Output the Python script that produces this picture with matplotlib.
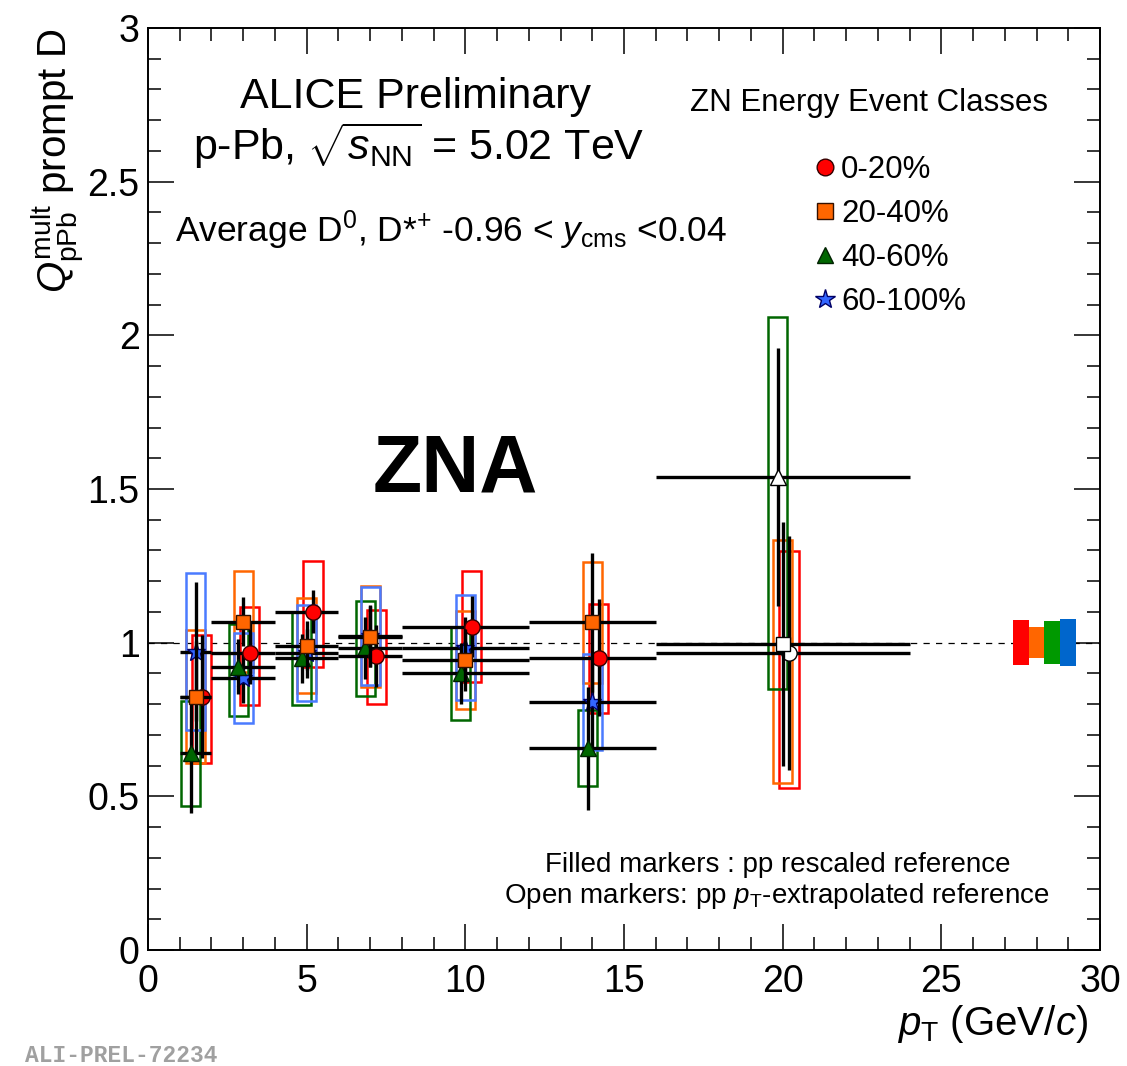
import matplotlib
matplotlib.use('Agg')
import matplotlib.pyplot as plt
from matplotlib.patches import Rectangle
from matplotlib.lines import Line2D
from matplotlib.ticker import MultipleLocator
import numpy as np

W, H = 1127, 1066
plt.rcParams['font.family'] = ['Liberation Sans', 'DejaVu Sans']
plt.rcParams['mathtext.fontset'] = 'custom'
plt.rcParams['mathtext.rm'] = 'Liberation Sans'
plt.rcParams['mathtext.it'] = 'Liberation Sans:italic'
plt.rcParams['mathtext.bf'] = 'Liberation Sans:bold'

# ---------------- data ----------------
pt_lo = [1, 2, 4, 6, 8, 12, 16]
pt_hi = [2, 4, 6, 8, 12, 16, 24]

class_labels = ['0-20%', '20-40%', '40-60%', '60-100%']

q_0_20 = [0.824, 0.967, 1.101, 0.957, 1.052, 0.951, 0.967]
stat_0_20 = [0.20, 0.10, 0.07, 0.10, 0.10, 0.19, 0.38]
systhi_0_20 = [0.20, 0.15, 0.165, 0.15, 0.18, 0.175, 0.33]
systlo_0_20 = [0.215, 0.17, 0.18, 0.155, 0.18, 0.18, 0.44]

q_20_40 = [0.824, 1.068, 0.990, 1.020, 0.944, 1.066, 0.995]
stat_20_40 = [0.18, 0.08, 0.08, 0.10, 0.10, 0.225, 0.397]
systhi_20_40 = [0.217, 0.165, 0.155, 0.163, 0.16, 0.196, 0.34]
systlo_20_40 = [0.217, 0.165, 0.155, 0.163, 0.16, 0.196, 0.45]

q_40_60 = [0.640, 0.922, 0.949, 0.982, 0.900, 0.656, 1.540]
stat_40_60 = [0.195, 0.09, 0.08, 0.10, 0.10, 0.20, 0.42]
systhi_40_60 = [0.17, 0.14, 0.152, 0.155, 0.15, 0.125, 0.52]
systlo_40_60 = [0.17, 0.16, 0.153, 0.155, 0.15, 0.122, 0.69]

q_60_100 = [0.971, 0.884, 0.965, 1.022, 0.984, 0.808]
stat_60_100 = [0.225, 0.08, 0.08, 0.10, 0.10, 0.15]
systhi_60_100 = [0.255, 0.147, 0.156, 0.16, 0.17, 0.156]
systlo_60_100 = [0.255, 0.147, 0.156, 0.16, 0.17, 0.156]

# pT-extrapolated reference used above 16 GeV/c (open markers)
open_marker_from_pt = 16

norm_unc = [0.074, 0.05, 0.07, 0.077]

# ---------------- style ----------------
styles = [
    dict(marker='o', mfc='#FF0000', mec='#330000', ms=11, box='#FF0000', dx=0.2, norm='#FF0000', z=6),
    dict(marker='s', mfc='#FF6600', mec='#331100', ms=10, box='#FF6600', dx=0.0, norm='#FF6600', z=8),
    dict(marker='^', mfc='#006600', mec='#002200', ms=11, box='#006600', dx=-0.15, norm='#009900', z=4),
    dict(marker='*', mfc='#3366FF', mec='#000066', ms=14, box='#4A7BFF', dx=0.0, norm='#0066CC', z=2),
]
series = [
    (q_0_20, stat_0_20, systhi_0_20, systlo_0_20),
    (q_20_40, stat_20_40, systhi_20_40, systlo_20_40),
    (q_40_60, stat_40_60, systhi_40_60, systlo_40_60),
    (q_60_100, stat_60_100, systhi_60_100, systlo_60_100),
]

fig = plt.figure(figsize=(W / 100, H / 100), dpi=100)
ax = fig.add_axes([148 / W, 1 - 950 / H, (1100 - 148) / W, (950 - 28) / H])
ax.set_xlim(0, 30)
ax.set_ylim(0, 3)


def fx(x):
    return x / W


def fy(y):
    return 1 - y / H


box_half = 0.3
for (vals, stat, shi, slo), st in zip(series, styles):
    n = len(vals)
    lo = np.array(pt_lo[:n], float)
    hi = np.array(pt_hi[:n], float)
    x = (lo + hi) / 2 + st['dx']
    v = np.array(vals)
    for xi, vi, a, b in zip(x, v, shi, slo):
        ax.add_patch(Rectangle((xi - box_half, vi - b), 2 * box_half, a + b,
                               fill=False, edgecolor=st['box'], lw=1.8, zorder=1.5))
    ax.errorbar(x, v, yerr=stat, xerr=[x - lo, hi - x], fmt='none',
                ecolor='black', elinewidth=2.4, capsize=0, zorder=st['z'])
    filled = lo < open_marker_from_pt
    ax.plot(x[filled], v[filled], ls='none', marker=st['marker'], ms=st['ms'],
            mfc=st['mfc'], mec=st['mec'], mew=1.0, zorder=st['z'] + 1)
    if (~filled).any():
        ax.plot(x[~filled], v[~filled], ls='none', marker=st['marker'], ms=st['ms'],
                mfc='white', mec='black', mew=1.0, zorder=st['z'] + 1)

# normalisation boxes
for i, (u, st) in enumerate(zip(norm_unc, styles)):
    ax.add_patch(Rectangle((27.25 + 0.5 * i, 1 - u), 0.5, 2 * u,
                           facecolor=st['norm'], edgecolor='none', zorder=2))

ax.axhline(1.0, color='black', lw=0.9, ls=(0, (5, 5)), zorder=1)

# axes style
for s in ax.spines.values():
    s.set_linewidth(1.4)
ax.set_xticks([0, 5, 10, 15, 20, 25, 30])
ax.set_xticklabels(['0', '5', '10', '15', '20', '25', '30'])
ax.set_yticks([0, 0.5, 1, 1.5, 2, 2.5, 3])
ax.set_yticklabels(['0', '0.5', '1', '1.5', '2', '2.5', '3'])
ax.xaxis.set_minor_locator(MultipleLocator(1))
ax.yaxis.set_minor_locator(MultipleLocator(0.1))
ax.tick_params(which='both', direction='in', top=True, right=True, width=1.1)
ax.tick_params(which='major', length=19)
ax.tick_params(which='minor', length=9.5)
ax.tick_params(axis='x', which='major', labelsize=27, pad=10)
ax.tick_params(axis='y', which='major', labelsize=27, pad=6)

# legend
handles = [Line2D([], [], ls='none', marker=st['marker'], ms=st['ms'] + 1,
                  mfc=st['mfc'], mec=st['mec'], mew=1.0) for st in styles]
leg = ax.legend(handles, class_labels, loc='upper left', frameon=False,
                bbox_to_anchor=(fx(816), fy(155)), bbox_transform=fig.transFigure,
                fontsize=22.5, handlelength=0.6, handletextpad=0.2,
                labelspacing=0.45, borderpad=0, borderaxespad=0)

# texts
fig.text(fx(415), fy(108), 'ALICE Preliminary', ha='center', va='baseline', fontsize=31)
fig.text(fx(193), fy(160), r'p-Pb, $\sqrt{s_{\rm NN}}$ = 5.02 TeV', ha='left',
         va='baseline', fontsize=31)
fig.text(fx(175), fy(242), r'Average D$^{0}$, D*$^{+}$ -0.96 < $y_{\rm cms}$ <0.04',
         ha='left', va='baseline', fontsize=25.5)
fig.text(fx(690), fy(111), 'ZN Energy Event Classes', ha='left', va='baseline', fontsize=22.5)
fig.text(fx(373), fy(492), 'ZNA', ha='left', va='baseline', fontsize=58, fontweight='bold')
fig.text(fx(778), fy(872), 'Filled markers : pp rescaled reference', ha='center',
         va='baseline', fontsize=20)
fig.text(fx(777), fy(903), r'Open markers: pp $p_{\rm T}$-extrapolated reference',
         ha='center', va='baseline', fontsize=20)
fig.text(fx(1088), fy(1035), r'$p_{\rm T}$ (GeV/$c$)', ha='right', va='baseline', fontsize=29)
fig.text(fx(57), fy(28), r'$Q^{\rm mult}_{\rm pPb}$ prompt D', ha='center', va='top',
         rotation=90, fontsize=29)
fig.text(fx(25), fy(1062), 'ALI-PREL-72234', ha='left', va='baseline', fontsize=16.5,
         family='Liberation Mono', fontweight='bold', color='#A0A0A0')

fig.savefig('out.png', dpi=100)
